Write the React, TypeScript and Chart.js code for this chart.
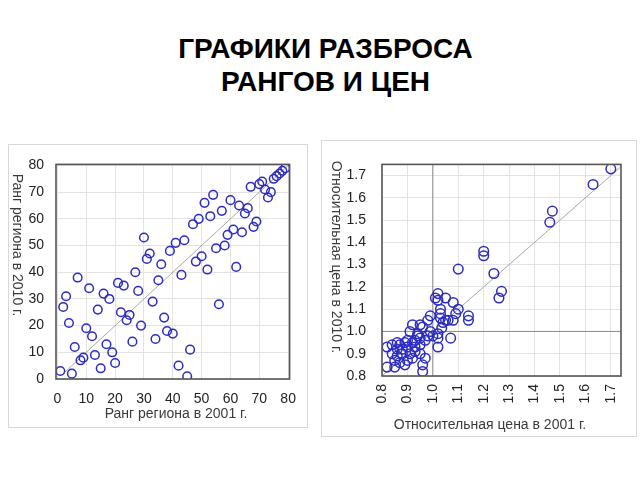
import React, { useEffect, useRef } from "react";
import { Chart, registerables } from "chart.js";

Chart.register(...registerables);

// ---------- DATA ----------
const rankRegion2001 = [
  1, 2, 3, 4, 5, 6, 7, 8, 9, 10, 11, 12, 13, 14, 15, 16, 17, 18, 19, 20,
  21, 22, 23, 24, 25, 26, 27, 28, 29, 30, 31, 32, 33, 34, 35, 36, 37, 38, 39, 40,
  41, 42, 43, 44, 45, 46, 47, 48, 49, 50, 51, 52, 53, 54, 55, 56, 57, 58, 59, 60,
  61, 62, 63, 64, 65, 66, 67, 68, 69, 70, 71, 72, 73, 74, 75, 76, 77, 78, 79,
];
const rankRegion2010 = [
  3, 27, 31, 21, 2, 12, 38, 7, 8, 19, 34, 16, 9, 26, 4, 32, 13, 30, 10, 6,
  36, 25, 35, 22, 24, 14, 40, 33, 20, 53, 45, 47, 29, 15, 37, 43, 23, 18, 48, 17,
  51, 5, 39, 52, 1, 11, 58, 44, 60, 46, 66, 41, 61, 69, 49, 28, 63, 50, 54, 67,
  56, 42, 65, 55, 62, 64, 72, 57, 59, 73, 74, 71, 68, 70, 75, 76, 77, 78, 79,
];

const relPrice2001 = [
  1.70, 1.63, 1.47, 1.46, 1.20, 1.20, 1.10, 1.24, 1.27, 1.26,
  1.14, 1.14, 1.10, 1.09, 1.08, 1.08, 1.07, 1.02, 1.05, 1.02,
  1.03, 1.03, 1.03, 1.05, 1.06, 1.035, 1.02, 1.02, 1.02, 0.99,
  0.98, 0.98, 0.95, 0.96, 0.92, 0.94, 0.95, 0.93, 0.90, 0.89,
  0.86, 0.84, 0.82, 0.88, 0.91, 0.93, 0.95, 0.97, 0.96, 0.96,
  0.86, 0.89, 0.85, 0.82, 0.87, 0.84, 0.86, 0.92, 0.91, 0.94,
  0.90, 0.88, 0.93, 0.97, 1.00, 0.99, 0.87, 0.85, 0.95, 1.04,
  1.01, 0.90, 0.92,
];
const relPrice2010 = [
  1.73, 1.66, 1.54, 1.49, 1.36, 1.34, 1.28, 1.26, 1.18, 1.15,
  1.07, 1.05, 1.10, 1.08, 1.13, 1.05, 0.97, 1.17, 1.15, 1.14,
  1.10, 1.08, 1.06, 1.05, 1.05, 1.016, 0.99, 0.97, 0.93, 1.07,
  1.05, 0.98, 1.03, 1.02, 1.03, 0.98, 0.97, 0.96, 0.96, 0.95,
  0.95, 0.94, 0.93, 0.92, 0.90, 0.93, 0.90, 0.88, 0.85, 0.82,
  0.89, 0.85, 0.84, 0.84, 0.86, 0.90, 0.92, 0.88, 1.00, 0.99,
  0.87, 0.90, 0.91, 0.96, 0.98, 1.00, 0.94, 0.87, 0.94, 1.04,
  1.15, 0.93, 0.95,
];

const rankTicks = [0, 10, 20, 30, 40, 50, 60, 70, 80];
const rankTickLabels = ["0", "10", "20", "30", "40", "50", "60", "70", "80"];
const priceTicks = [0.8, 0.9, 1.0, 1.1, 1.2, 1.3, 1.4, 1.5, 1.6, 1.7];
const priceTickLabels = ["0.8", "0.9", "1.0", "1.1", "1.2", "1.3", "1.4", "1.5", "1.6", "1.7"];

const rankDiagonal = [2, 80];
const priceDiagonal = [0.8, 1.75];
const priceReference = 1.0;

const titleLines = ["ГРАФИКИ РАЗБРОСА", "РАНГОВ И ЦЕН"];
const rankXTitle = "Ранг региона в 2001 г.";
const rankYTitle = "Ранг региона в 2010 г.";
const priceXTitle = "Относительная цена в 2001 г.";
const priceYTitle = "Относительная цена в 2010 г.";

// ---------- STYLE ----------
const FONT = "'Liberation Sans', Arial, sans-serif";
const MARKER = "#2c2cc0";
const GRID = "#e3e3e3";
const FRAME = "#555555";

type TitleSpec = {
  xTitle: string;
  yTitle: string;
  xTitlePos: [number, number];
  yTitlePos: [number, number];
};

function makeFramePlugin(spec: TitleSpec) {
  return {
    id: "frameAndTitles",
    afterDatasetsDraw(chart: any) {
      const { ctx, chartArea } = chart;
      ctx.save();
      ctx.strokeStyle = FRAME;
      ctx.lineWidth = 1.6;
      ctx.strokeRect(
        chartArea.left,
        chartArea.top,
        chartArea.right - chartArea.left,
        chartArea.bottom - chartArea.top
      );
      ctx.restore();
    },
    afterDraw(chart: any) {
      const { ctx } = chart;
      ctx.save();
      ctx.fillStyle = "#3a3a3a";
      ctx.font = `14px ${FONT}`;
      ctx.textAlign = "center";
      ctx.textBaseline = "middle";
      ctx.fillText(spec.xTitle, spec.xTitlePos[0], spec.xTitlePos[1]);
      ctx.translate(spec.yTitlePos[0], spec.yTitlePos[1]);
      ctx.rotate(Math.PI / 2);
      ctx.fillText(spec.yTitle, 0, 0);
      ctx.restore();
    },
  };
}

function RankChart() {
  const ref = useRef<HTMLCanvasElement | null>(null);
  useEffect(() => {
    if (!ref.current) return;
    const points = rankRegion2001.map((x, i) => ({ x, y: rankRegion2010[i] }));
    const diag = rankDiagonal.map((v) => ({ x: v, y: v }));
    const chart = new Chart(ref.current, {
      type: "scatter",
      data: {
        datasets: [
          {
            data: points,
            pointStyle: "circle",
            pointRadius: 4.3,
            pointBorderWidth: 1.5,
            borderColor: MARKER,
            backgroundColor: "rgba(0,0,0,0)",
          } as any,
          {
            type: "line",
            data: diag,
            borderColor: "#a8a8a8",
            borderWidth: 1,
            pointRadius: 0,
            fill: false,
          } as any,
        ],
      },
      options: {
        animation: false,
        responsive: false,
        maintainAspectRatio: false,
        layout: { padding: { left: 20, top: 11, right: 13, bottom: 0 } },
        plugins: { legend: { display: false }, tooltip: { enabled: false } },
        scales: {
          x: {
            type: "linear",
            min: -0.5,
            max: 80.5,
            afterBuildTicks: (s: any) => {
              s.ticks = rankTicks.map((v) => ({ value: v }));
            },
            afterFit: (s: any) => {
              s.height = 49;
            },
            ticks: {
              padding: 12,
              color: "#222",
              font: { family: FONT, size: 14 },
              maxRotation: 0,
              minRotation: 0,
              callback: (_v: any, i: number) => rankTickLabels[i],
            },
            grid: { color: GRID, drawTicks: false },
            border: { display: false },
          },
          y: {
            type: "linear",
            min: 0,
            max: 80.4,
            afterBuildTicks: (s: any) => {
              s.ticks = rankTicks.map((v) => ({ value: v }));
            },
            afterFit: (s: any) => {
              s.width = 28;
            },
            ticks: {
              padding: 12,
              color: "#222",
              font: { family: FONT, size: 14 },
              callback: (_v: any, i: number) => rankTickLabels[i],
            },
            grid: { color: GRID, drawTicks: false },
            border: { display: false },
          },
        },
      },
      plugins: [
        makeFramePlugin({
          xTitle: rankXTitle,
          yTitle: rankYTitle,
          xTitlePos: [168, 270],
          yTitlePos: [9, 101],
        }),
      ],
    } as any);
    return () => chart.destroy();
  }, []);
  return <canvas ref={ref} width={300} height={284} style={{ width: 300, height: 284, display: "block" }} />;
}

function PriceChart() {
  const ref = useRef<HTMLCanvasElement | null>(null);
  useEffect(() => {
    if (!ref.current) return;
    const points = relPrice2001.map((x, i) => ({ x, y: relPrice2010[i] }));
    const diag = priceDiagonal.map((v) => ({ x: v, y: v }));
    const vLine = priceDiagonal.map((v) => ({ x: priceReference, y: v }));
    const hLine = priceDiagonal.map((v) => ({ x: v, y: priceReference }));
    const lineStyle = {
      type: "line",
      borderWidth: 1,
      pointRadius: 0,
      fill: false,
    };
    const chart = new Chart(ref.current, {
      type: "scatter",
      data: {
        datasets: [
          {
            data: points,
            pointStyle: "circle",
            pointRadius: 4.8,
            pointBorderWidth: 1.5,
            borderColor: MARKER,
            backgroundColor: "rgba(0,0,0,0)",
          } as any,
          { ...lineStyle, data: diag, borderColor: "#a8a8a8" } as any,
          { ...lineStyle, data: vLine, borderColor: "#8c8c8c" } as any,
          { ...lineStyle, data: hLine, borderColor: "#8c8c8c" } as any,
        ],
      },
      options: {
        animation: false,
        responsive: false,
        maintainAspectRatio: false,
        layout: { padding: { left: 25, top: 12, right: 16, bottom: 0 } },
        plugins: { legend: { display: false }, tooltip: { enabled: false } },
        scales: {
          x: {
            type: "linear",
            min: 0.8,
            max: 1.74,
            afterBuildTicks: (s: any) => {
              s.ticks = priceTicks.map((v) => ({ value: v }));
            },
            afterFit: (s: any) => {
              s.height = 61;
            },
            ticks: {
              padding: 8,
              color: "#222",
              font: { family: FONT, size: 14 },
              maxRotation: 90,
              minRotation: 90,
              callback: (_v: any, i: number) => priceTickLabels[i],
            },
            grid: { color: GRID, drawTicks: false },
            border: { display: false },
          },
          y: {
            type: "linear",
            min: 0.8,
            max: 1.75,
            afterBuildTicks: (s: any) => {
              s.ticks = priceTicks.map((v) => ({ value: v }));
            },
            afterFit: (s: any) => {
              s.width = 36;
            },
            ticks: {
              padding: 16,
              color: "#222",
              font: { family: FONT, size: 14 },
              callback: (_v: any, i: number) => priceTickLabels[i],
            },
            grid: { color: GRID, drawTicks: false },
            border: { display: false },
          },
        },
      },
      plugins: [
        makeFramePlugin({
          xTitle: priceXTitle,
          yTitle: priceYTitle,
          xTitlePos: [169, 285],
          yTitlePos: [15, 117],
        }),
      ],
    } as any);
    return () => chart.destroy();
  }, []);
  return <canvas ref={ref} width={316} height={297} style={{ width: 316, height: 297, display: "block" }} />;
}

export default function App() {
  const panelBorder: React.CSSProperties = {
    position: "absolute",
    boxSizing: "border-box",
    border: "1px solid #d8d8d8",
    background: "#fff",
  };
  return (
    <div
      style={{
        position: "absolute",
        left: 0,
        top: 0,
        width: 640,
        height: 480,
        background: "#fff",
        overflow: "hidden",
        fontFamily: FONT,
      }}
    >
      <div
        style={{
          position: "absolute",
          left: 0,
          top: 32,
          width: 651,
          textAlign: "center",
          fontWeight: "bold",
          fontSize: 28,
          lineHeight: "33px",
          color: "#000",
        }}
      >
        {titleLines.map((t) => (
          <div key={t}>{t}</div>
        ))}
      </div>
      <div style={{ ...panelBorder, left: 8, top: 144, width: 300, height: 284 }}>
        <div style={{ position: "absolute", left: -1, top: -1 }}>
          <RankChart />
        </div>
      </div>
      <div style={{ ...panelBorder, left: 321, top: 140, width: 316, height: 297 }}>
        <div style={{ position: "absolute", left: -1, top: -1 }}>
          <PriceChart />
        </div>
      </div>
    </div>
  );
}
